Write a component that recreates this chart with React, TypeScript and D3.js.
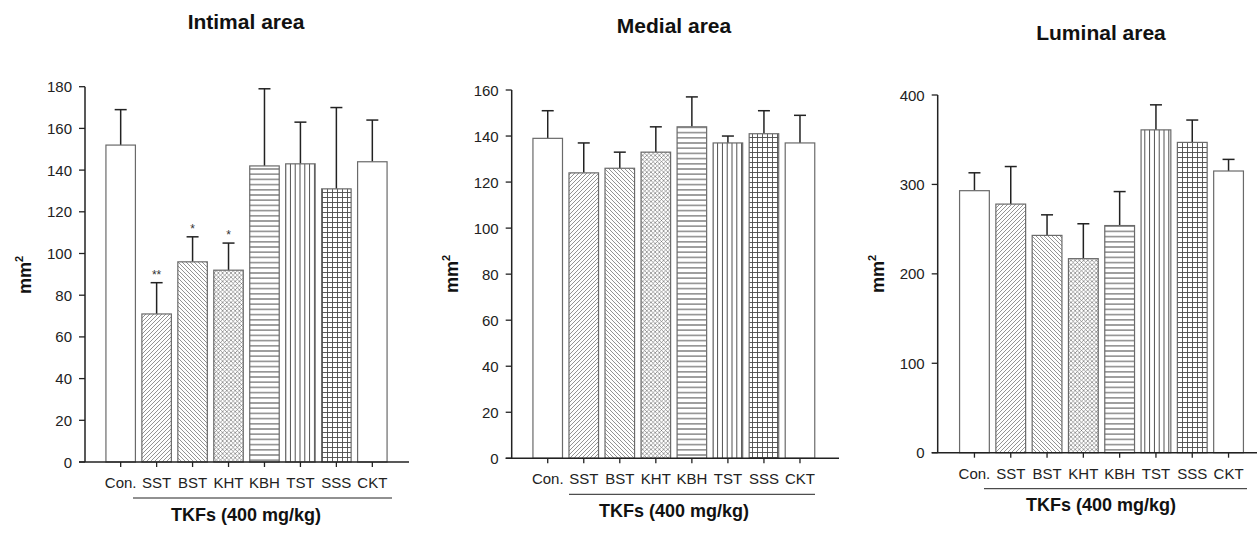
import React from "react";
import * as d3 from "d3";

const categories = ["Con.", "SST", "BST", "KHT", "KBH", "TST", "SSS", "CKT"];
const patterns = ["none", "diagR", "diagL", "cross", "horiz", "vert", "grid", "none"];

const intimalMean = [152, 71, 96, 92, 142, 143, 131, 144];
const intimalErr = [17, 15, 12, 13, 37, 20, 39, 20];
const intimalSig = ["", "**", "*", "*", "", "", "", ""];

const medialMean = [139, 124, 126, 133, 144, 137, 141, 137];
const medialErr = [12, 13, 7, 11, 13, 3, 10, 12];
const medialSig = ["", "", "", "", "", "", "", ""];

const luminalMean = [293, 278, 243, 217, 254, 361, 347, 315];
const luminalErr = [20, 42, 23, 39, 38, 28, 25, 13];
const luminalSig = ["", "", "", "", "", "", "", ""];

const intimalTicks = [0, 20, 40, 60, 80, 100, 120, 140, 160, 180];
const medialTicks = [0, 20, 40, 60, 80, 100, 120, 140, 160];
const luminalTicks = [0, 100, 200, 300, 400];

const FONT = "'Liberation Sans', Arial, Helvetica, sans-serif";

type Panel = {
  title: string;
  mean: number[];
  err: number[];
  sig: string[];
  ticks: number[];
  axisX: number;
  y0: number;
  yTop: number;
  band: [number, number];
  xAxisEnd: number;
  centerX: number;
  titleY: number;
  ylabX: number;
  ylabY: number;
  underline: [number, number];
};

const panels: Panel[] = [
  {
    title: "Intimal area", mean: intimalMean, err: intimalErr, sig: intimalSig, ticks: intimalTicks,
    axisX: 85, y0: 462, yTop: 86.7, band: [102.7, 390.3], xAxisEnd: 409, centerX: 246,
    titleY: 28.5, ylabX: 31, ylabY: 275, underline: [133, 392],
  },
  {
    title: "Medial area", mean: medialMean, err: medialErr, sig: medialSig, ticks: medialTicks,
    axisX: 511.7, y0: 458.3, yTop: 90, band: [529.7, 818], xAxisEnd: 839, centerX: 674,
    titleY: 33.3, ylabX: 458, ylabY: 274, underline: [569, 815],
  },
  {
    title: "Luminal area", mean: luminalMean, err: luminalErr, sig: luminalSig, ticks: luminalTicks,
    axisX: 937.7, y0: 452.7, yTop: 95, band: [956.3, 1246.7], xAxisEnd: 1257, centerX: 1101,
    titleY: 40, ylabX: 883.5, ylabY: 274, underline: [984, 1247],
  },
];

const BAR_STROKE = "#6a6a6a";
const PAT = "#4a4a4a";
const PAT_LIGHT = "#666";
const AXIS = "#222";

function Defs() {
  return (
    <defs>
      <pattern id="diagR" patternUnits="userSpaceOnUse" width="4" height="4">
        <path d="M-1,1 l2,-2 M0,4 l4,-4 M3,5 l2,-2" stroke={PAT_LIGHT} strokeWidth="0.7" />
      </pattern>
      <pattern id="diagL" patternUnits="userSpaceOnUse" width="4" height="4">
        <path d="M-1,3 l2,2 M0,0 l4,4 M3,-1 l2,2" stroke={PAT_LIGHT} strokeWidth="0.7" />
      </pattern>
      <pattern id="cross" patternUnits="userSpaceOnUse" width="4.2" height="4.2">
        <path d="M-1,1 l2,-2 M0,4.2 l4.2,-4.2 M3.2,5.2 l2,-2 M-1,3.2 l2,2 M0,0 l4.2,4.2 M3.2,-1 l2,2" stroke={PAT_LIGHT} strokeWidth="0.6" />
      </pattern>
      <pattern id="horiz" patternUnits="userSpaceOnUse" width="5.2" height="5.2">
        <path d="M0,2.6 h5.2" stroke={PAT} strokeWidth="1" />
      </pattern>
      <pattern id="vert" patternUnits="userSpaceOnUse" width="4.8" height="4.8">
        <path d="M2.4,0 v4.8" stroke={PAT} strokeWidth="1" />
      </pattern>
      <pattern id="grid" patternUnits="userSpaceOnUse" width="5" height="5">
        <path d="M0,2.5 h5 M2.5,0 v5" stroke={PAT} strokeWidth="0.9" />
      </pattern>
    </defs>
  );
}

function PanelChart({ p }: { p: Panel }) {
  const yMax = p.ticks[p.ticks.length - 1];
  const y = d3.scaleLinear().domain([0, yMax]).range([p.y0, p.yTop]);
  const x = d3.scaleBand<string>().domain(categories).range(p.band).paddingInner(0.18).paddingOuter(0.09);
  const bw = x.bandwidth();
  return (
    <g fontFamily={FONT}>
      <text x={p.centerX} y={p.titleY} textAnchor="middle" fontSize="21" fontWeight="bold" fill="#111">
        {p.title}
      </text>
      {categories.map((c, i) => {
        const bx = x(c)!;
        const top = y(p.mean[i]);
        const cx = bx + bw / 2;
        const et = y(p.mean[i] + p.err[i]);
        const pat = patterns[i];
        return (
          <g key={c}>
            <line x1={cx} x2={cx} y1={top} y2={et} stroke={AXIS} strokeWidth="1.5" />
            <line x1={cx - 6} x2={cx + 6} y1={et} y2={et} stroke={AXIS} strokeWidth="1.5" />
            <rect x={bx} y={top} width={bw} height={p.y0 - top} fill="#fff" />
            {pat !== "none" && (
              <rect x={bx} y={top} width={bw} height={p.y0 - top} fill={`url(#${pat})`} />
            )}
            <rect x={bx} y={top} width={bw} height={p.y0 - top} fill="none" stroke={BAR_STROKE} strokeWidth="1.2" />
            {p.sig[i] && (
              <text x={cx} y={et - 4} textAnchor="middle" fontSize="12" fill="#333">
                {p.sig[i]}
              </text>
            )}
            <line x1={cx} x2={cx} y1={p.y0} y2={p.y0 + 5} stroke={AXIS} strokeWidth="1.3" />
            <text x={cx} y={p.y0 + 26} textAnchor="middle" fontSize="15" fill="#222">
              {c}
            </text>
          </g>
        );
      })}
      {/* y axis */}
      <line x1={p.axisX} x2={p.axisX} y1={p.y0} y2={p.yTop} stroke={AXIS} strokeWidth="1.5" />
      {p.ticks.map((t) => (
        <g key={t}>
          <line x1={p.axisX - 6} x2={p.axisX} y1={y(t)} y2={y(t)} stroke={AXIS} strokeWidth="1.3" />
          <text x={p.axisX - 13} y={y(t) + 5.5} textAnchor="end" fontSize="15" fill="#222">
            {t}
          </text>
        </g>
      ))}
      {/* x axis */}
      <line x1={p.axisX - 6} x2={p.xAxisEnd} y1={p.y0} y2={p.y0} stroke={AXIS} strokeWidth="1.5" />
      <line x1={p.underline[0]} x2={p.underline[1]} y1={p.y0 + 36} y2={p.y0 + 36} stroke={AXIS} strokeWidth="1" />
      <text x={p.centerX} y={p.y0 + 58.5} textAnchor="middle" fontSize="18" fontWeight="bold" fill="#111">
        TKFs (400 mg/kg)
      </text>
      <text
        transform={`translate(${p.ylabX},${p.ylabY}) rotate(-90)`}
        textAnchor="middle"
        fontSize="18"
        fontWeight="bold"
        fill="#111"
      >
        mm<tspan fontSize="11" dy="-8">2</tspan>
      </text>
    </g>
  );
}

export default function App() {
  return (
    <svg
      width={1257}
      height={535}
      style={{ position: "absolute", left: 0, top: 0, background: "#fff" }}
      xmlns="http://www.w3.org/2000/svg"
    >
      <Defs />
      <rect x={0} y={0} width={1257} height={535} fill="#fff" />
      {panels.map((p) => (
        <PanelChart key={p.title} p={p} />
      ))}
    </svg>
  );
}
